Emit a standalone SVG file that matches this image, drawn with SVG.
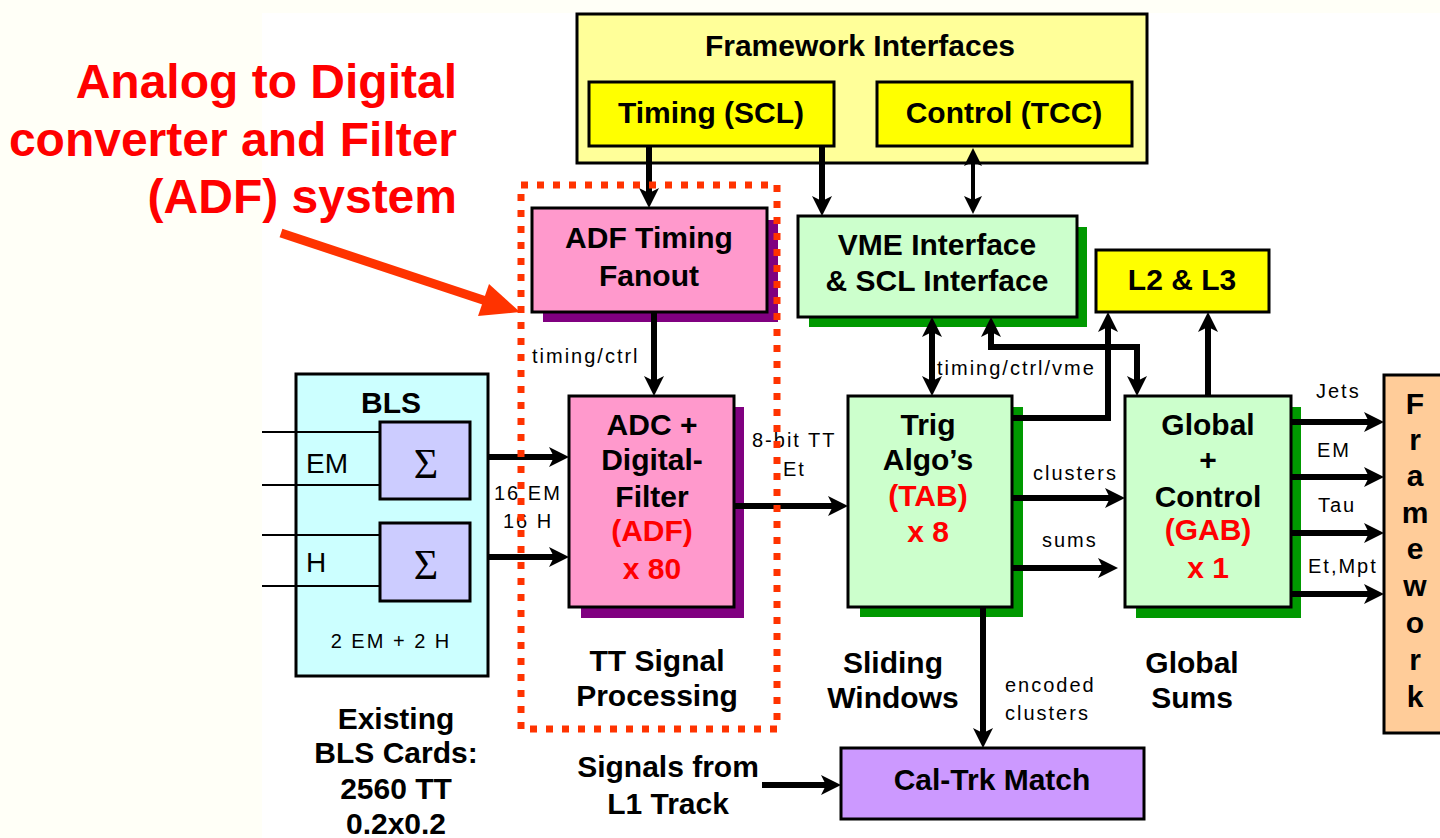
<svg xmlns="http://www.w3.org/2000/svg" width="1440" height="838" viewBox="0 0 1440 838">
<style>
.bx{stroke:#000;stroke-width:3}
.t{font-family:"Liberation Sans",Arial,sans-serif;font-weight:bold;font-size:30px;text-anchor:middle;fill:#000}
.r{fill:#FF0000}
.s{font-family:"Liberation Sans",Arial,sans-serif;font-size:20px;letter-spacing:2px;fill:#000}
.ln{stroke:#000;stroke-width:6;fill:none}
.thin{stroke:#000;stroke-width:2;fill:none}
.big{font-family:"Liberation Sans",Arial,sans-serif;font-weight:bold;font-size:48px;fill:#FF0000;text-anchor:end}
</style>
<defs>
<marker id="ah" markerUnits="userSpaceOnUse" markerWidth="22" markerHeight="22" viewBox="0 -11 22 22" refX="6" refY="0" orient="auto-start-reverse">
<path d="M20,0 L0,-10 L5,0 L0,10 Z" fill="#000"/>
</marker>
<marker id="ahs" markerUnits="userSpaceOnUse" markerWidth="22" markerHeight="22" viewBox="0 -11 22 22" refX="6" refY="0" orient="auto-start-reverse">
<path d="M18,0 L0,-9 L4,0 L0,9 Z" fill="#000"/>
</marker>
</defs>
<rect x="0" y="0" width="1440" height="838" fill="#FFFFF7"/>
<rect x="262" y="13" width="1178" height="825" fill="#FFFFFF"/>

<g id="annotation">
<text class="big" x="457" y="98">Analog to Digital</text>
<text class="big" x="457" y="156">converter and Filter</text>
<text class="big" x="457" y="213">(ADF) system</text>
<line x1="281" y1="233" x2="486" y2="301" stroke="#FF3300" stroke-width="9"/>
<polygon points="520,312 478,316 489,284" fill="#FF3300"/>
</g>

<g id="framework-interfaces">
<rect class="bx" x="577" y="14" width="570" height="149" fill="#FFFF99"/>
<text class="t" x="860" y="56">Framework Interfaces</text>
</g>
<g id="timing-scl">
<rect class="bx" x="589" y="82" width="245" height="64" fill="#FFFF00"/>
<text class="t" x="711" y="123">Timing (SCL)</text>
</g>
<g id="control-tcc">
<rect class="bx" x="877" y="82" width="255" height="64" fill="#FFFF00"/>
<text class="t" x="1004" y="123">Control (TCC)</text>
</g>

<g id="adf-timing-fanout">
<rect x="543" y="220" width="235" height="102" fill="#800080"/>
<rect class="bx" x="532" y="208" width="235" height="104" fill="#FF99CC"/>
<text class="t" x="649" y="248">ADF Timing</text>
<text class="t" x="649" y="286">Fanout</text>
</g>

<g id="vme-interface">
<rect x="809" y="227" width="278" height="100" fill="#009900"/>
<rect class="bx" x="798" y="216" width="279" height="101" fill="#CCFFCC"/>
<text class="t" x="937" y="255">VME Interface</text>
<text class="t" x="937" y="291">&amp; SCL Interface</text>
</g>

<g id="l2-l3">
<rect class="bx" x="1096" y="250" width="173" height="62" fill="#FFFF00"/>
<text class="t" x="1182" y="290">L2 &amp; L3</text>
</g>

<g id="bls">
<rect class="bx" x="296" y="374" width="192" height="302" fill="#CCFFFF"/>
<text class="t" x="391" y="413">BLS</text>
<rect class="bx" x="380" y="422" width="90" height="77" fill="#CCCCFF"/>
<rect class="bx" x="380" y="523" width="90" height="78" fill="#CCCCFF"/>
<text x="426" y="478" font-family="Liberation Serif,Times New Roman,serif" font-size="42" text-anchor="middle">Σ</text>
<text x="426" y="579" font-family="Liberation Serif,Times New Roman,serif" font-size="42" text-anchor="middle">Σ</text>
<text x="306" y="473" font-family="Liberation Sans,Arial,sans-serif" font-size="28">EM</text>
<text x="306" y="572" font-family="Liberation Sans,Arial,sans-serif" font-size="28">H</text>
<text class="s" x="391" y="648" text-anchor="middle">2 EM + 2 H</text>
<line class="thin" x1="262" y1="432" x2="380" y2="432"/>
<line class="thin" x1="262" y1="485" x2="380" y2="485"/>
<line class="thin" x1="262" y1="535" x2="380" y2="535"/>
<line class="thin" x1="262" y1="586" x2="380" y2="586"/>
</g>

<g id="adc-filter">
<rect x="581" y="407" width="163" height="211" fill="#800080"/>
<rect class="bx" x="569" y="396" width="165" height="211" fill="#FF99CC"/>
<text class="t" x="652" y="435">ADC +</text>
<text class="t" x="652" y="470">Digital-</text>
<text class="t" x="652" y="507">Filter</text>
<text class="t r" x="652" y="541">(ADF)</text>
<text class="t r" x="652" y="579">x 80</text>
</g>

<g id="trig-algos">
<rect x="860" y="407" width="163" height="210" fill="#009900"/>
<rect class="bx" x="848" y="396" width="164" height="211" fill="#CCFFCC"/>
<text class="t" x="928" y="435">Trig</text>
<text class="t" x="928" y="470">Algo’s</text>
<text class="t r" x="928" y="506">(TAB)</text>
<text class="t r" x="928" y="542">x 8</text>
</g>

<g id="global-control">
<rect x="1136" y="407" width="165" height="211" fill="#009900"/>
<rect class="bx" x="1125" y="396" width="166" height="211" fill="#CCFFCC"/>
<text class="t" x="1208" y="435">Global</text>
<text class="t" x="1208" y="470">+</text>
<text class="t" x="1208" y="507">Control</text>
<text class="t r" x="1208" y="540">(GAB)</text>
<text class="t r" x="1208" y="578">x 1</text>
</g>

<g id="framework">
<rect class="bx" x="1384" y="375" width="60" height="358" fill="#FFCC99"/>
<text class="t" x="1415" y="414">F</text>
<text class="t" x="1415" y="450">r</text>
<text class="t" x="1415" y="486">a</text>
<text class="t" x="1415" y="523">m</text>
<text class="t" x="1415" y="559">e</text>
<text class="t" x="1415" y="596">w</text>
<text class="t" x="1415" y="633">o</text>
<text class="t" x="1415" y="670">r</text>
<text class="t" x="1415" y="707">k</text>
</g>

<g id="cal-trk-match">
<rect class="bx" x="841" y="748" width="303" height="71" fill="#CC99FF"/>
<text class="t" x="992" y="790">Cal-Trk Match</text>
</g>

<g id="captions">
<text class="t" x="657" y="671">TT Signal</text>
<text class="t" x="657" y="706">Processing</text>
<text class="t" x="893" y="673">Sliding</text>
<text class="t" x="893" y="708">Windows</text>
<text class="t" x="1192" y="673">Global</text>
<text class="t" x="1192" y="708">Sums</text>
<text class="t" x="396" y="729">Existing</text>
<text class="t" x="396" y="763">BLS Cards:</text>
<text class="t" x="396" y="799">2560 TT</text>
<text class="t" x="396" y="834">0.2x0.2</text>
<text class="t" x="668" y="777">Signals from</text>
<text class="t" x="668" y="814">L1 Track</text>
</g>

<g id="connectors">
<line class="ln" x1="649" y1="146" x2="649" y2="194" marker-end="url(#ah)"/>
<line class="ln" x1="822" y1="146" x2="822" y2="202" marker-end="url(#ah)"/>
<line x1="973" y1="160" x2="973" y2="202" stroke="#000" stroke-width="4" marker-start="url(#ahs)" marker-end="url(#ahs)"/>
<line class="ln" x1="654" y1="312" x2="654" y2="382" marker-end="url(#ah)"/>
<line class="ln" x1="488" y1="457" x2="555" y2="457" marker-end="url(#ah)"/>
<line class="ln" x1="488" y1="557" x2="555" y2="557" marker-end="url(#ah)"/>
<line class="ln" x1="734" y1="506" x2="834" y2="506" marker-end="url(#ah)"/>
<line class="ln" x1="932" y1="331" x2="932" y2="382" marker-start="url(#ah)" marker-end="url(#ah)"/>
<path class="ln" d="M991,331 L991,347 L1137,347 L1137,382" marker-start="url(#ah)" marker-end="url(#ah)"/>
<path class="ln" d="M1012,418 L1108,418 L1108,326" marker-end="url(#ah)"/>
<line class="ln" x1="1208" y1="396" x2="1208" y2="326" marker-end="url(#ah)"/>
<line class="ln" x1="1012" y1="498" x2="1111" y2="498" marker-end="url(#ah)"/>
<line class="ln" x1="1012" y1="568" x2="1104" y2="568" marker-end="url(#ah)"/>
<line class="ln" x1="1291" y1="422" x2="1370" y2="422" marker-end="url(#ah)"/>
<line class="ln" x1="1291" y1="477" x2="1370" y2="477" marker-end="url(#ah)"/>
<line class="ln" x1="1291" y1="533" x2="1370" y2="533" marker-end="url(#ah)"/>
<line class="ln" x1="1291" y1="594" x2="1370" y2="594" marker-end="url(#ah)"/>
<line class="ln" x1="983" y1="607" x2="983" y2="734" marker-end="url(#ah)"/>
<line class="ln" x1="762" y1="785" x2="827" y2="785" marker-end="url(#ah)"/>
</g>

<g id="connector-labels">
<text class="s" x="532" y="363" letter-spacing="1.5">timing/ctrl</text>
<text class="s" x="494" y="500" letter-spacing="3">16 EM</text>
<text class="s" x="503" y="528" letter-spacing="3">16 H</text>
<text class="s" x="752" y="447">8-bit TT</text>
<text class="s" x="783" y="476">Et</text>
<text class="s" x="937" y="375">timing/ctrl/vme</text>
<text class="s" x="1033" y="480" letter-spacing="1.8">clusters</text>
<text class="s" x="1042" y="547" letter-spacing="2.5">sums</text>
<text class="s" x="1316" y="398" letter-spacing="2.5">Jets</text>
<text class="s" x="1317" y="457" letter-spacing="3">EM</text>
<text class="s" x="1318" y="512" letter-spacing="3">Tau</text>
<text class="s" x="1308" y="573">Et,Mpt</text>
<text class="s" x="1005" y="692" letter-spacing="2.5">encoded</text>
<text class="s" x="1005" y="720" letter-spacing="2.5">clusters</text>
</g>

<g id="adf-system-outline">
<rect x="521" y="185" width="256" height="544" fill="none" stroke="#FF3300" stroke-width="7" stroke-dasharray="7 9"/>
</g>
</svg>
